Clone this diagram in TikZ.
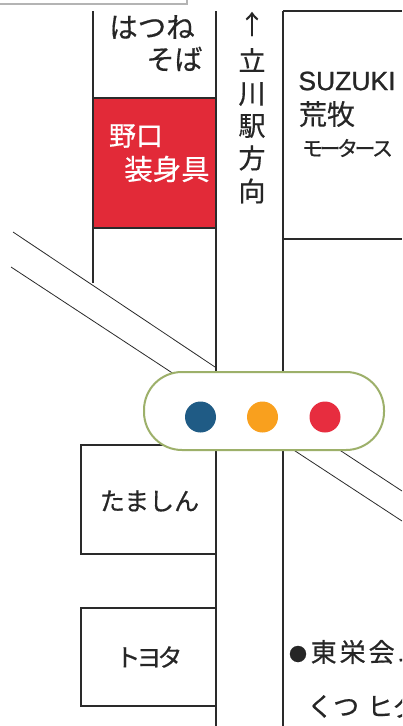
\documentclass[tikz,border=0pt]{standalone}
\usepackage{fontspec}
\setmainfont{Noto Sans CJK JP}[RawFeature={embolden=0.5}]
\newfontfamily\latinf{Liberation Sans}[RawFeature={embolden=0.9}]
\definecolor{inkc}{HTML}{2A2A2A}
\definecolor{shopred}{HTML}{E22A38}
\definecolor{pillg}{HTML}{9DB06A}
\definecolor{dotblue}{HTML}{1F5B85}
\definecolor{dotor}{HTML}{F9A01E}
\definecolor{dotred}{HTML}{E72D3F}
\definecolor{frameg}{HTML}{B4B4B4}
\newcommand{\tgt}[1]{\hspace{#1pt}}
\tikzset{
 road/.style={draw=inkc,line width=1.7pt},
 thin road/.style={draw=inkc,line width=0.8pt},
 label/.style={inner sep=0pt,text=black!85,font=\fontsize{#1}{#1}\selectfont},
 light/.style={inner sep=0pt,text=white,font=\fontsize{#1}{#1}\selectfont},
 lamp/.style={circle,inner sep=0pt,minimum size=31pt}
}
\begin{document}
\begin{tikzpicture}[x=1pt,y=-1pt]
\useasboundingbox (0,0) rectangle (402,726);
\clip (0,0) rectangle (402,726);
\fill[white] (0,0) rectangle (402,726);
% top left frame
\draw[frameg,line width=1.6pt] (-2,4) -- (187,4) -- (187,-2);
% roads
\coordinate (a1) at (93,11); \coordinate (a2) at (93,283);
\draw[road] (a1) -- (a2);
\coordinate (b1) at (216,11); \coordinate (b2) at (216,726);
\draw[road] (b1) -- (b2);
\coordinate (c1) at (283,11); \coordinate (c2) at (283,726);
\draw[road] (c1) -- (c2);
\coordinate (c3) at (402,11); \draw[road] (c1) -- (c3);
\coordinate (d1) at (283,239); \coordinate (d2) at (402,239);
\draw[road] (d1) -- (d2);
% red shop
\node[draw=inkc,line width=1.7pt,fill=shopred,minimum width=123pt,minimum height=130pt,inner sep=0pt] (shop) at (154.5,163) {};
% diagonals
\coordinate (e1) at (13,232); \coordinate (e2) at (215,367); \draw[thin road] (e1) -- (e2);
\coordinate (f1) at (11,267); \coordinate (f2) at (180,378); \draw[thin road] (f1) -- (f2);
\coordinate (g1) at (286,445); \coordinate (g2) at (402,521); \draw[thin road] (g1) -- (g2);
\coordinate (h1) at (335,447); \coordinate (h2) at (402,491); \draw[thin road] (h1) -- (h2);
% boxes
\coordinate (t1) at (216,445); \coordinate (t2) at (81,445); \coordinate (t3) at (81,554); \coordinate (t4) at (216,554);
\draw[road] (t1) -- (t2) -- (t3) -- (t4);
\coordinate (u1) at (216,608); \coordinate (u2) at (81,608); \coordinate (u3) at (81,706); \coordinate (u4) at (216,706);
\draw[road] (u1) -- (u2) -- (u3) -- (u4);
% signal
\node[draw=pillg,fill=white,line width=2pt,rounded corners=38pt,minimum width=240pt,minimum height=78pt,inner sep=0pt] (pill) at (264,411) {};
\node[lamp,fill=dotblue] (l1) at (200.5,417) {};
\node[lamp,fill=dotor] (l2) at (262.5,417) {};
\node[lamp,fill=dotred] (l3) at (325,417) {};
% text
\node[label=28.5] (n1) at (152,27) {はつね};
\node[label=28] (n2) at (174.5,59) {そば};
\node[light=27] (n3) at (136,136) {野口};
\node[light=28.5] (n4) at (167,169) {装身具};
\node[label=26] (v0) at (252,24) {↑};
\node[label=27] (v1) at (252,60) {立};
\node[label=27] (v2) at (252,94) {川};
\node[label=27] (v3) at (252,126) {駅};
\node[label=27] (v4) at (252,158) {方};
\node[label=27] (v5) at (252,191) {向};
\node[inner sep=0pt,text=black!85,font=\latinf\fontsize{26.5}{26.5}\selectfont] (s1) at (347,81) {SUZUKI};
\node[label=28] (s2) at (327,114) {荒牧};
\node[label=21] (s3) at (347.5,148) {モ\tgt{-3.5}ー\tgt{-3.5}タ\tgt{-3.5}ー\tgt{-3.5}ス};
\node[label=25] (n5) at (149.5,501) {たましん};
\node[label=25] (n6) at (149,657) {ト\tgt{-4}ヨ\tgt{-4}タ};
\node[label=18] (n7a) at (298,654) {●};
\node[label=26,anchor=west] (n7) at (310.5,652) {東\tgt{3}栄\tgt{3}会\tgt{3}ム};
\node[label=26,anchor=west] (n8) at (307,706) {くつ\hspace{8pt}ヒグ};
\end{tikzpicture}
\end{document}
